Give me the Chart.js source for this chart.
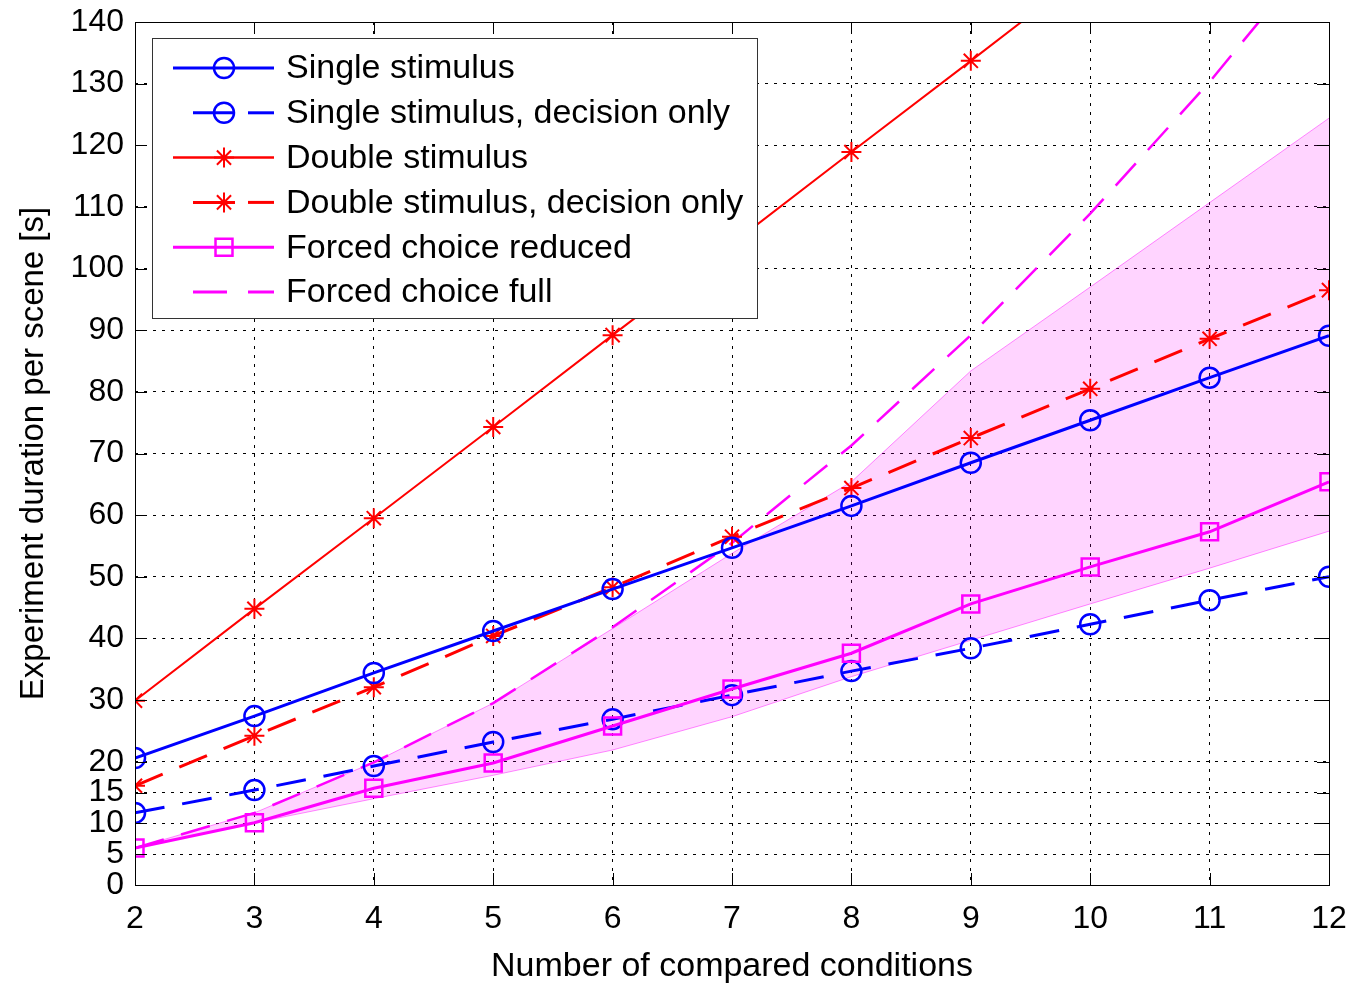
<!DOCTYPE html>
<html>
<head>
<meta charset="utf-8">
<script src="https://cdn.jsdelivr.net/npm/chart.js@4.4.1/dist/chart.umd.min.js"></script>
<style>
html,body{margin:0;padding:0;background:#fff;}
#wrap{width:1353px;height:987px;}
</style>
</head>
<body>
<div id="wrap"><canvas id="c" width="1353" height="987"></canvas></div>
<script>
// ---- data ----
const categories = [2, 3, 4, 5, 6, 7, 8, 9, 10, 11, 12];
const singleStim = [20.6, 27.4, 34.4, 41.2, 48.0, 54.7, 61.5, 68.5, 75.4, 82.3, 89.1];
const singleDec  = [11.7, 15.4, 19.3, 23.2, 26.9, 30.8, 34.7, 38.4, 42.3, 46.2, 50.0];
const doubleStim = [29.9, 44.8, 59.5, 74.3, 89.2, 104.0, 118.9, 133.7, 148.6, 163.4, 178.2];
const doubleDec  = [16.1, 24.2, 32.1, 40.4, 48.3, 56.5, 64.4, 72.5, 80.5, 88.6, 96.5];
const fcReduced  = [6.0, 10.1, 15.7, 19.8, 25.8, 31.8, 37.6, 45.6, 51.6, 57.3, 65.4];
const fcFull     = [6.0, 11.7, 19.9, 29.5, 41.8, 55.5, 71.3, 89.2, 108.9, 130.3, 153.8];
const bandUpper  = [6.0, 11.7, 19.9, 29.5, 41.6, 53.8, 65.4, 83.4, 97.0, 110.7, 124.4];
const bandLower  = [6.0, 10.1, 14.0, 17.8, 21.9, 27.3, 33.8, 39.7, 45.6, 51.4, 57.4];
const yTickValues = [0, 5, 10, 15, 20, 30, 40, 50, 60, 70, 80, 90, 100, 110, 120, 130, 140];
const xTickValues = categories;
const seriesNames = ['Single stimulus', 'Single stimulus, decision only', 'Double stimulus',
  'Double stimulus, decision only', 'Forced choice reduced', 'Forced choice full'];
const xTitle = 'Number of compared conditions';
const yTitle = 'Experiment duration per scene [s]';

const FONT = "'Liberation Sans', Arial, Helvetica, sans-serif";
const BLUE = '#0000ff', RED = '#ff0000', MAG = '#ff00ff';
const DASH = [30, 18];

function pts(arr) { return categories.map((x, i) => ({x: x, y: arr[i]})); }

const datasets = [
  {label: 'bandLower', data: pts(bandLower), borderColor: 'rgba(255,0,255,0.45)', borderWidth: 1,
   pointRadius: 0, fill: false, order: 10, tension: 0},
  {label: 'bandUpper', data: pts(bandUpper), borderColor: 'rgba(255,0,255,0.45)', borderWidth: 1,
   pointRadius: 0, fill: '-1', backgroundColor: 'rgba(255,0,255,0.17)', order: 9, tension: 0},
  {label: seriesNames[5], data: pts(fcFull), borderColor: MAG, borderWidth: 2.5, borderDash: DASH,
   pointRadius: 0, fill: false, order: 5},
  {label: seriesNames[2], data: pts(doubleStim), borderColor: RED, borderWidth: 2, pointStyle: 'star',
   pointRadius: 10, pointBorderWidth: 2, pointBorderColor: RED, fill: false, order: 4},
  {label: seriesNames[3], data: pts(doubleDec), borderColor: RED, borderWidth: 3, borderDash: DASH, pointStyle: 'star',
   pointRadius: 10, pointBorderWidth: 2, pointBorderColor: RED, fill: false, order: 3},
  {label: seriesNames[1], data: pts(singleDec), borderColor: BLUE, borderWidth: 3, borderDash: DASH, pointStyle: 'circle',
   pointRadius: 10, pointBorderWidth: 2.5, pointBorderColor: BLUE, pointBackgroundColor: 'rgba(0,0,0,0)', fill: false, order: 2},
  {label: seriesNames[0], data: pts(singleStim), borderColor: BLUE, borderWidth: 3, pointStyle: 'circle',
   pointRadius: 10, pointBorderWidth: 2.5, pointBorderColor: BLUE, pointBackgroundColor: 'rgba(0,0,0,0)', fill: false, order: 1},
  {label: seriesNames[4], data: pts(fcReduced), borderColor: MAG, borderWidth: 3, pointStyle: 'rect',
   pointRadius: 12, pointBorderWidth: 2.5, pointBorderColor: MAG, pointBackgroundColor: 'rgba(0,0,0,0)', fill: false, order: 0}
];

// legend description (style only)
const legendItems = [
  {text: seriesNames[0], color: BLUE, width: 3, segs: [[173, 274]], style: 'circle', r: 10},
  {text: seriesNames[1], color: BLUE, width: 3, segs: [[193, 235], [248, 274]], style: 'circle', r: 10},
  {text: seriesNames[2], color: RED, width: 2.5, segs: [[173, 274]], style: 'star', r: 10},
  {text: seriesNames[3], color: RED, width: 3, segs: [[193, 235], [248, 274]], style: 'star', r: 10},
  {text: seriesNames[4], color: MAG, width: 3, segs: [[173, 274]], style: 'rect', r: 12},
  {text: seriesNames[5], color: MAG, width: 3, segs: [[193, 227], [248, 274]], style: null, r: 0}
];

function drawMarker(ctx, style, r, x, y, color) {
  ctx.save();
  ctx.strokeStyle = color; ctx.lineWidth = 2.5; ctx.setLineDash([]);
  ctx.beginPath();
  if (style === 'circle') {
    ctx.arc(x, y, r, 0, Math.PI * 2);
  } else if (style === 'rect') {
    const s = r * Math.SQRT1_2;
    ctx.rect(x - s, y - s, 2 * s, 2 * s);
  } else if (style === 'star') {
    ctx.lineWidth = 2;
    for (let k = 0; k < 4; k++) {
      const a = k * Math.PI / 4;
      ctx.moveTo(x - r * Math.cos(a), y - r * Math.sin(a));
      ctx.lineTo(x + r * Math.cos(a), y + r * Math.sin(a));
    }
  }
  ctx.stroke();
  ctx.restore();
}

const framePlugin = {
  id: 'frame',
  afterDatasetsDraw(chart) {
    const ctx = chart.ctx;
    // legend box
    const L = 152, T = 38, R = 757, B = 318;
    ctx.save();
    ctx.fillStyle = '#fff';
    ctx.fillRect(L, T, R - L, B - T);
    ctx.strokeStyle = '#333'; ctx.lineWidth = 1;
    ctx.strokeRect(L + 0.5, T + 0.5, R - L, B - T);
    ctx.font = '34px ' + FONT;
    ctx.textBaseline = 'middle';
    ctx.fillStyle = '#000';
    legendItems.forEach((it, i) => {
      const y = 68 + i * 44.8;
      ctx.save();
      ctx.strokeStyle = it.color; ctx.lineWidth = it.width;
      it.segs.forEach(s => { ctx.beginPath(); ctx.moveTo(s[0], y); ctx.lineTo(s[1], y); ctx.stroke(); });
      ctx.restore();
      if (it.style) drawMarker(ctx, it.style, it.r, 224, y, it.color);
      ctx.fillText(it.text, 286, y + 1);
    });
    ctx.restore();
  },
  afterDraw(chart) {
    const ctx = chart.ctx, a = chart.chartArea;
    const xs = chart.scales.x, ys = chart.scales.y;
    const TL = 12;
    ctx.save();
    ctx.strokeStyle = '#000'; ctx.lineWidth = 1; ctx.setLineDash([]);
    ctx.beginPath();
    xTickValues.forEach(v => {
      const px = Math.round(xs.getPixelForValue(v)) + 0.5;
      ctx.moveTo(px, a.bottom); ctx.lineTo(px, a.bottom - TL);
      ctx.moveTo(px, a.top); ctx.lineTo(px, a.top + TL);
    });
    yTickValues.forEach(v => {
      const py = Math.round(ys.getPixelForValue(v)) + 0.5;
      ctx.moveTo(a.left, py); ctx.lineTo(a.left + TL, py);
      ctx.moveTo(a.right, py); ctx.lineTo(a.right - TL, py);
    });
    ctx.stroke();
    ctx.strokeRect(Math.round(a.left) + 0.5, Math.round(a.top) + 0.5, Math.round(a.right - a.left), Math.round(a.bottom - a.top));
    ctx.restore();
  }
};

function noPad(s) { s.paddingTop = 0; s.paddingBottom = 0; s.paddingLeft = 0; s.paddingRight = 0; }

new Chart(document.getElementById('c'), {
  type: 'line',
  data: {datasets: datasets},
  plugins: [framePlugin],
  options: {
    responsive: false,
    animation: false,
    devicePixelRatio: 1,
    layout: {padding: {top: 22, right: 24, bottom: 0, left: 0}},
    plugins: {legend: {display: false}, tooltip: {enabled: false}},
    elements: {line: {tension: 0}},
    scales: {
      x: {
        type: 'linear', min: 2, max: 12,
        afterFit(s) { s.height = 102; noPad(s); },
        afterBuildTicks(s) { s.ticks = xTickValues.map(v => ({value: v})); },
        ticks: {font: {family: FONT, size: 32}, color: '#000', padding: 15, autoSkip: false, maxRotation: 0},
        grid: {color: '#000', lineWidth: 1, drawTicks: false},
        border: {display: false, dash: [3, 6]},
        title: {display: true, text: xTitle, font: {family: FONT, size: 34}, color: '#000', padding: {top: 0, bottom: 0}}
      },
      y: {
        type: 'linear', min: 0, max: 140,
        afterFit(s) { s.width = 135; noPad(s); },
        afterBuildTicks(s) { s.ticks = yTickValues.map(v => ({value: v})); },
        ticks: {font: {family: FONT, size: 32}, color: '#000', padding: 11, autoSkip: false},
        grid: {color: '#000', lineWidth: 1, drawTicks: false},
        border: {display: false, dash: [3, 6]},
        title: {display: true, text: yTitle, font: {family: FONT, size: 33}, color: '#000', padding: {top: 14, bottom: 0}}
      }
    }
  }
});
</script>
</body>
</html>
